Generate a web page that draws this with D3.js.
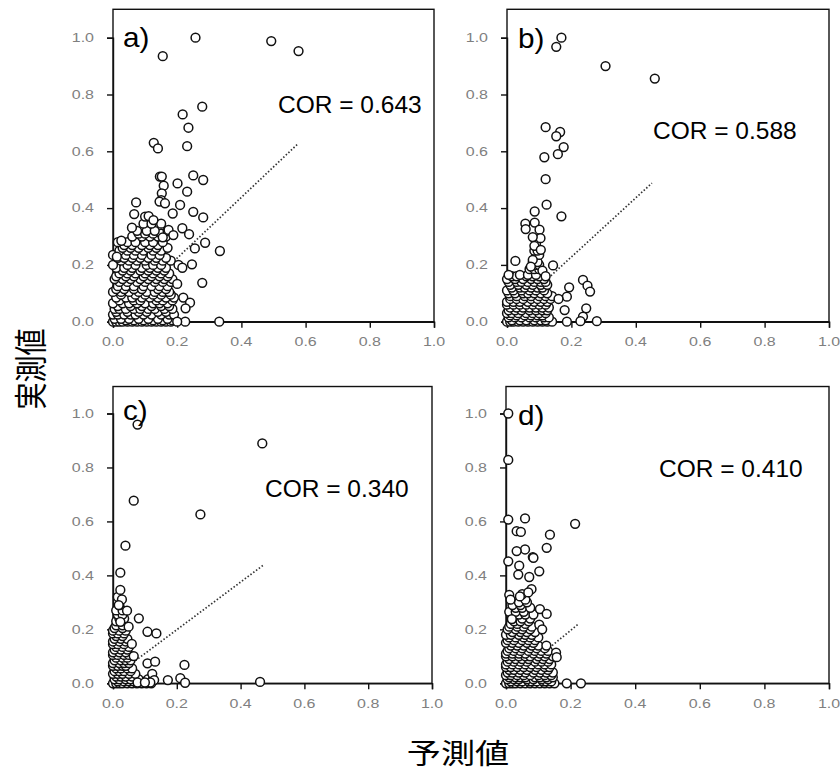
<!DOCTYPE html>
<html>
<head>
<meta charset="utf-8">
<script src="https://cdn.jsdelivr.net/npm/d3@7"></script>
<style>
  body { margin: 0; background: #fff; }
  svg { display: block; }
</style>
</head>
<body>
<svg id="chart" width="840" height="773"></svg>
<script>
// ---- data: [predicted, observed] for the scattered points of each panel ----
const pointsA = [[0.257,1.0],[0.155,0.935],[0.493,0.988],[0.578,0.953],[0.278,0.757],[0.217,0.73],[0.235,0.683],[0.127,0.63],[0.14,0.61],[0.231,0.618],[0.146,0.511],[0.152,0.511],[0.25,0.515],[0.281,0.499],[0.201,0.487],[0.158,0.479],[0.231,0.458],[0.152,0.452],[0.15,0.428],[0.145,0.423],[0.072,0.42],[0.162,0.417],[0.209,0.411],[0.186,0.381],[0.25,0.387],[0.281,0.367],[0.066,0.379],[0.1,0.37],[0.111,0.372],[0.126,0.358],[0.059,0.331],[0.216,0.329],[0.237,0.308],[0.173,0.323],[0.155,0.297],[0.188,0.305],[0.287,0.278],[0.255,0.258],[0.333,0.249],[0.026,0.285],[0.012,0.229],[0.246,0.202],[0.204,0.2],[0.216,0.19],[0.2,0.133],[0.278,0.137],[0.219,0.085],[0.24,0.067],[0.226,0.047],[0.331,0.0],[0.225,0.0],[0.2,0.0]];
const pointsB = [[0.169,1.0],[0.153,0.968],[0.306,0.9],[0.459,0.856],[0.12,0.685],[0.165,0.668],[0.153,0.653],[0.176,0.615],[0.158,0.59],[0.116,0.579],[0.12,0.502],[0.123,0.412],[0.086,0.388],[0.169,0.371],[0.057,0.345],[0.058,0.326],[0.086,0.349],[0.101,0.324],[0.104,0.294],[0.08,0.298],[0.085,0.267],[0.105,0.253],[0.026,0.214],[0.143,0.198],[0.08,0.218],[0.074,0.194],[0.193,0.121],[0.186,0.088],[0.236,0.147],[0.25,0.127],[0.258,0.106],[0.246,0.047],[0.236,0.018],[0.179,0.041],[0.186,0.0],[0.228,0.002],[0.279,0.002],[0.16,0.08],[0.11,0.18],[0.12,0.16]];
const pointsC = [[0.077,0.959],[0.468,0.889],[0.065,0.677],[0.274,0.626],[0.039,0.51],[0.023,0.41],[0.023,0.346],[0.028,0.311],[0.018,0.29],[0.044,0.269],[0.081,0.241],[0.108,0.191],[0.136,0.185],[0.023,0.228],[0.049,0.21],[0.059,0.146],[0.065,0.101],[0.108,0.074],[0.132,0.08],[0.224,0.068],[0.123,0.035],[0.172,0.012],[0.211,0.019],[0.226,0.002],[0.461,0.005],[0.129,0.012],[0.077,0.003],[0.117,0.003],[0.1,0.003]];
const pointsD = [[0.007,1.0],[0.007,0.828],[0.007,0.607],[0.059,0.611],[0.214,0.591],[0.033,0.564],[0.046,0.561],[0.136,0.551],[0.059,0.496],[0.033,0.49],[0.126,0.502],[0.083,0.468],[0.085,0.465],[0.007,0.452],[0.103,0.415],[0.041,0.436],[0.038,0.403],[0.072,0.394],[0.079,0.349],[0.069,0.337],[0.01,0.328],[0.014,0.31],[0.043,0.322],[0.105,0.275],[0.126,0.257],[0.103,0.217],[0.112,0.2],[0.018,0.238],[0.155,0.114],[0.157,0.097],[0.188,0.0],[0.232,0.0]];

// ---- dense low-value clusters: [observed, [predicted, ...]] rows ----
const clusterA = [
  [0.0,  [0.0,0.01,0.02,0.03,0.045,0.06,0.075,0.09,0.105,0.12,0.135,0.15,0.165,0.18]],
  [0.005,[0.04,0.065,0.095,0.125,0.155,0.185]],
  [0.01, [0.005,0.025,0.05,0.08,0.11,0.14,0.17]],
  [0.025,[0.0,0.015,0.035,0.055,0.07,0.095,0.12,0.15,0.175,0.19]],
  [0.035,[0.01,0.045,0.08,0.105,0.14,0.165]],
  [0.045,[0.005,0.02,0.04,0.065,0.085,0.11,0.13,0.16,0.185]],
  [0.055,[0.015,0.055,0.09,0.12,0.15,0.175]],
  [0.065,[0.0,0.03,0.05,0.075,0.1,0.125,0.145,0.17]],
  [0.075,[0.02,0.065,0.085,0.135,0.155,0.185]],
  [0.085,[0.01,0.04,0.06,0.09,0.115,0.14,0.165,0.19]],
  [0.095,[0.025,0.07,0.1,0.125,0.15,0.18]],
  [0.105,[0.0,0.025,0.05,0.08,0.105,0.13,0.155,0.175]],
  [0.115,[0.01,0.035,0.065,0.09,0.14,0.165]],
  [0.125,[0.015,0.04,0.065,0.095,0.12,0.145,0.17]],
  [0.14, [0.02,0.045,0.075,0.1,0.13,0.155,0.18]],
  [0.15, [0.005,0.03,0.055,0.085,0.11,0.135,0.16,0.185]],
  [0.16, [0.01,0.04,0.065,0.095,0.12,0.145,0.17]],
  [0.17, [0.02,0.045,0.07,0.1,0.125,0.15,0.175]],
  [0.18, [0.03,0.055,0.085,0.11,0.135,0.16]],
  [0.19, [0.01,0.035,0.06,0.09,0.115,0.14,0.165]],
  [0.2,  [0.0,0.045,0.07,0.105,0.125,0.15]],
  [0.215,[0.025,0.05,0.075,0.1,0.13,0.155,0.18]],
  [0.225,[0.015,0.035,0.06,0.085,0.11,0.135,0.165]],
  [0.235,[0.0,0.04,0.065,0.09,0.12,0.145]],
  [0.25, [0.02,0.045,0.07,0.095,0.125,0.15]],
  [0.26, [0.03,0.055,0.08,0.11,0.135,0.17]],
  [0.27, [0.035,0.06,0.09,0.115,0.14]],
  [0.28, [0.015,0.045,0.07,0.1,0.125,0.155]],
  [0.3,  [0.06,0.09,0.115,0.14,0.165]],
  [0.31, [0.08,0.1,0.125,0.15]],
  [0.32, [0.075,0.105,0.13,0.17]],
  [0.345,[0.095,0.12,0.15]]
];
const clusterB = [
  [0.0,  [0.0,0.01,0.02,0.035,0.05,0.065,0.08,0.095,0.11,0.125,0.14]],
  [0.005,[0.015,0.04,0.06,0.085,0.105,0.12]],
  [0.015,[0.005,0.025,0.045,0.07,0.09,0.115,0.13]],
  [0.022,[0.01,0.03,0.055,0.075,0.095,0.11]],
  [0.03, [0.0,0.015,0.035,0.06,0.08,0.1,0.12]],
  [0.04, [0.005,0.025,0.045,0.07,0.09,0.11,0.125]],
  [0.05, [0.01,0.03,0.05,0.07,0.09,0.11,0.13]],
  [0.06, [0.0,0.02,0.04,0.06,0.08,0.1,0.12]],
  [0.07, [0.0,0.02,0.04,0.065,0.085,0.105,0.125]],
  [0.08, [0.01,0.03,0.05,0.075,0.095,0.115,0.135]],
  [0.09, [0.01,0.03,0.055,0.075,0.1,0.12,0.14]],
  [0.1,  [0.005,0.025,0.05,0.065,0.085,0.105,0.125]],
  [0.11, [0.0,0.02,0.045,0.07,0.09,0.115]],
  [0.12, [0.015,0.04,0.055,0.075,0.095,0.11]],
  [0.13, [0.01,0.035,0.06,0.08,0.105,0.125]],
  [0.14, [0.005,0.03,0.045,0.065,0.085,0.105,0.12]],
  [0.15, [0.0,0.025,0.05,0.075,0.095,0.115]],
  [0.16, [0.015,0.03,0.06,0.08,0.1]],
  [0.165,[0.005,0.04,0.065,0.09]],
  [0.185,[0.07,0.085,0.1]],
  [0.2,  [0.09,0.1]],
  [0.21, [0.08,0.095]],
  [0.235,[0.09,0.1]],
  [0.25, [0.085,0.095]],
  [0.275,[0.09]]
];
const clusterC = [
  [0.0,  [0.0,0.01,0.02,0.03,0.045,0.06,0.075,0.09,0.105,0.12]],
  [0.007,[0.015,0.035,0.05,0.065,0.085,0.1]],
  [0.015,[0.005,0.02,0.04,0.055,0.08,0.11,0.125]],
  [0.025,[0.01,0.025,0.04,0.06]],
  [0.035,[0.0,0.015,0.03,0.05,0.07]],
  [0.045,[0.005,0.02,0.035,0.055]],
  [0.055,[0.01,0.025,0.045,0.06]],
  [0.065,[0.0,0.015,0.03,0.04]],
  [0.075,[0.0,0.02,0.035,0.05]],
  [0.085,[0.005,0.025,0.04,0.055]],
  [0.095,[0.01,0.03,0.045]],
  [0.105,[0.0,0.015,0.035,0.05]],
  [0.115,[0.0,0.02,0.04]],
  [0.125,[0.005,0.025,0.045]],
  [0.135,[0.01,0.03,0.05]],
  [0.145,[0.0,0.015,0.035]],
  [0.155,[0.0,0.02,0.04]],
  [0.165,[0.005,0.025,0.045]],
  [0.175,[0.01,0.03]],
  [0.185,[0.0,0.015,0.035]],
  [0.195,[0.0,0.02,0.04]],
  [0.205,[0.005,0.03]],
  [0.215,[0.01,0.03]],
  [0.23, [0.01,0.025]],
  [0.24, [0.02,0.035]],
  [0.255,[0.015,0.03]],
  [0.27, [0.01,0.03]],
  [0.29, [0.02]],
  [0.32, [0.015]]
];
const clusterD = [
  [0.0,  [0.0,0.01,0.02,0.03,0.045,0.06,0.075,0.09,0.105,0.12,0.135,0.15]],
  [0.007,[0.015,0.035,0.05,0.07,0.08,0.095,0.115,0.125,0.14]],
  [0.015,[0.005,0.025,0.04,0.065,0.085,0.11,0.13]],
  [0.022,[0.01,0.03,0.045,0.06,0.09,0.105,0.125,0.145]],
  [0.03, [0.0,0.015,0.035,0.055,0.075,0.1,0.12,0.14]],
  [0.04, [0.005,0.02,0.04,0.06,0.085,0.105,0.125,0.145]],
  [0.05, [0.01,0.025,0.045,0.065,0.09,0.11,0.13]],
  [0.06, [0.0,0.015,0.035,0.055,0.075,0.095,0.12,0.135]],
  [0.07, [0.0,0.02,0.04,0.06,0.08,0.1,0.12,0.14]],
  [0.08, [0.005,0.025,0.045,0.065,0.09,0.11,0.13]],
  [0.09, [0.01,0.03,0.05,0.07,0.095,0.115,0.135]],
  [0.1,  [0.0,0.02,0.04,0.06,0.075,0.1,0.12,0.145]],
  [0.11, [0.0,0.02,0.04,0.06,0.085,0.105,0.125]],
  [0.12, [0.005,0.025,0.045,0.07,0.09,0.11,0.13]],
  [0.13, [0.01,0.03,0.05,0.075,0.095,0.12]],
  [0.14, [0.015,0.035,0.055,0.08,0.1,0.125]],
  [0.15, [0.0,0.02,0.04,0.065,0.085]],
  [0.16, [0.005,0.025,0.05,0.07,0.09]],
  [0.17, [0.01,0.03,0.055,0.075,0.1]],
  [0.18, [0.0,0.015,0.04,0.06,0.08]],
  [0.19, [0.02,0.045,0.065,0.09]],
  [0.2,  [0.005,0.03,0.05,0.075]],
  [0.21, [0.01,0.035,0.055,0.08]],
  [0.22, [0.015,0.035,0.06]],
  [0.23, [0.025,0.045,0.07]],
  [0.24, [0.02,0.05,0.075]],
  [0.255,[0.015,0.04,0.06,0.085]],
  [0.265,[0.01,0.03,0.055]],
  [0.28, [0.03,0.05,0.075]],
  [0.29, [0.02,0.045]],
  [0.3,  [0.04,0.065]],
  [0.31, [0.06]],
  [0.33, [0.05]]
];

const panelLabels = ["a)", "b)", "c)", "d)"];
const corValues = ["0.643", "0.588", "0.340", "0.410"];
// fitted line per panel: [intercept, slope, last predicted value]
const fitLines = [[0.01, 1.07, 0.578], [0.02, 1.04, 0.45], [0.022, 0.883, 0.471], [0.0, 0.98, 0.225]];
const xTicks = [0, 0.2, 0.4, 0.6, 0.8, 1.0];
const yTicks = [0, 0.2, 0.4, 0.6, 0.8, 1.0];
const xTitle = "予測値";
const yTitle = "実測値";

// ---- layout ----
const frames = [
  { left: 113, right: 434, base: 321.7, one: 37.7, corX: 278, corY: 113, labX: 123, labY: 47 },
  { left: 507, right: 829, base: 321.7, one: 37.7, corX: 653, corY: 139, labX: 518, labY: 48 },
  { left: 113, right: 432, base: 683.3, one: 413.5, corX: 265, corY: 497, labX: 123, labY: 420 },
  { left: 506, right: 829, base: 683.3, one: 413.5, corX: 659, corY: 477, labX: 518, labY: 425 }
];

const scattered = [pointsA, pointsB, pointsC, pointsD];
const clusters = [clusterA, clusterB, clusterC, clusterD];

const svg = d3.select("#chart");
const SANS = "'Liberation Sans', Arial, sans-serif";
const CJK = "'Noto Sans CJK JP', sans-serif";

// text drawn with a horizontal stretch about its anchor point
function stretchedText(g, x, y, str, opts) {
  return g.append("text")
    .attr("transform", `translate(${x},${y}) scale(${opts.sx || 1},1)${opts.rotate ? ` rotate(${opts.rotate})` : ""}`)
    .attr("text-anchor", opts.anchor || "start")
    .attr("dominant-baseline", opts.baseline || "auto")
    .attr("font-family", opts.family || SANS)
    .attr("font-size", opts.size)
    .attr("fill", opts.fill || "#000")
    .text(str);
}

frames.forEach((f, i) => {
  const x = d3.scaleLinear().domain([0, 1]).range([f.left, f.right]);
  const y = d3.scaleLinear().domain([0, 1]).range([f.base, f.one]);
  const yTop = y(1.1);
  const g = svg.append("g");

  // frame
  g.append("rect")
    .attr("x", f.left).attr("y", yTop)
    .attr("width", f.right - f.left).attr("height", f.base - yTop)
    .attr("fill", "none").attr("stroke", "#111").attr("stroke-width", 1.4);

  // axes (ticks + labels)
  const xAxis = d3.axisBottom(x).tickValues(xTicks).tickSize(6).tickFormat(() => "");
  const yAxis = d3.axisLeft(y).tickValues(yTicks).tickSize(6).tickFormat(() => "");
  const gx = g.append("g").attr("transform", `translate(0,${f.base})`).call(xAxis);
  const gy = g.append("g").attr("transform", `translate(${f.left},0)`).call(yAxis);
  [gx, gy].forEach(a => {
    a.select(".domain").attr("stroke", "#111").attr("stroke-width", 1.4);
    a.selectAll(".tick line").attr("stroke", "#111").attr("stroke-width", 1.4);
  });
  xTicks.forEach(t => stretchedText(g, x(t), f.base + 20, d3.format(".1f")(t),
    { size: 12.5, sx: 1.28, anchor: "middle", baseline: "central", fill: "#7f7f7f" }));
  yTicks.forEach(t => stretchedText(g, f.left - 19, y(t), d3.format(".1f")(t),
    { size: 12.5, sx: 1.28, anchor: "end", baseline: "central", fill: "#7f7f7f" }));

  // fitted line (dotted)
  const [b0, b1, xEnd] = fitLines[i];
  g.append("line")
    .attr("x1", x(0)).attr("y1", y(b0))
    .attr("x2", x(xEnd)).attr("y2", y(b0 + b1 * xEnd))
    .attr("stroke", "#333").attr("stroke-width", 1.7)
    .attr("stroke-dasharray", "1.5,2");

  // points
  const pts = [];
  clusters[i].forEach(([obs, preds]) => preds.forEach(p => pts.push([p, obs])));
  scattered[i].forEach(p => pts.push(p));
  g.append("g").selectAll("circle").data(pts).join("circle")
    .attr("cx", d => x(d[0])).attr("cy", d => y(d[1]))
    .attr("r", 4.4)
    .attr("fill", "#fff").attr("stroke", "#111").attr("stroke-width", 1.5);

  // panel label and correlation
  stretchedText(g, f.labX, f.labY, panelLabels[i], { size: 27, sx: 1.1 });
  stretchedText(g, f.corX, f.corY, `COR = ${corValues[i]}`, { size: 24.5 });
});

// axis titles
stretchedText(svg, 458, 764, xTitle, { size: 28, sx: 1.22, anchor: "middle", family: CJK });
stretchedText(svg, 29, 369, yTitle, { size: 27, sx: 1.22, anchor: "middle", baseline: "central", family: CJK, rotate: -90 });
</script>
</body>
</html>
